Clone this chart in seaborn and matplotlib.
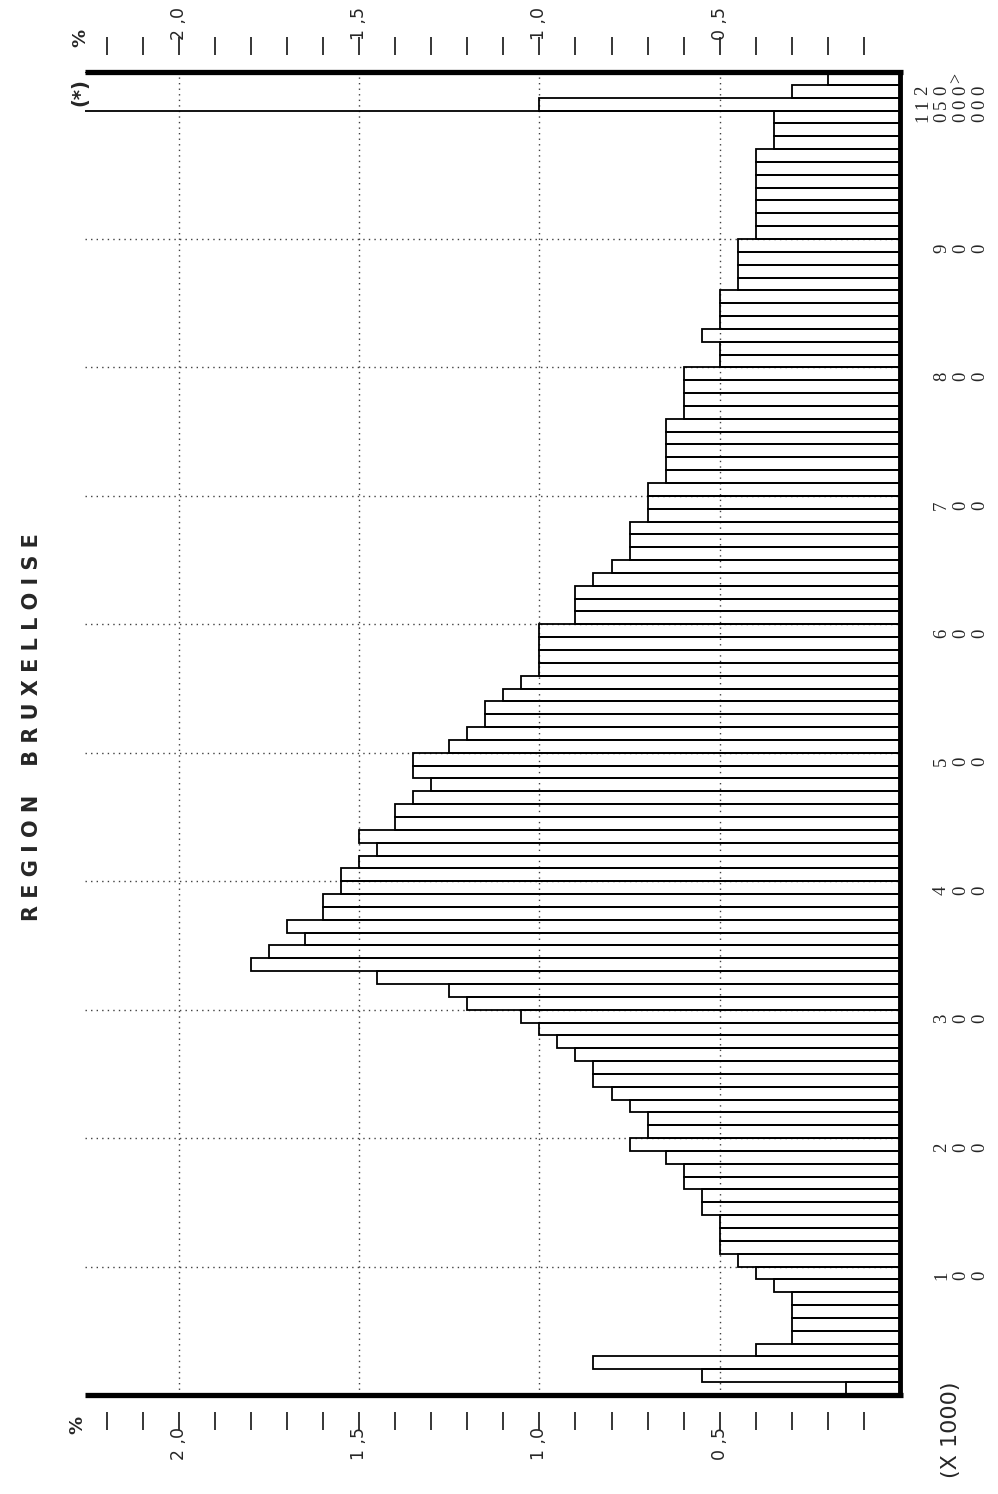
import numpy as np
import pandas as pd
import matplotlib
matplotlib.use("Agg")
import matplotlib.pyplot as plt
import matplotlib.transforms as mtransforms
import seaborn as sns

sns.set_style("white")
plt.rcParams['font.family'] = ['DejaVu Sans']

# ---- data -------------------------------------------------------------
# income classes of 10 (x 1000) from 0 to 1000
class_starts = list(range(0, 1000, 10))
class_values = [
    0.15, 0.55, 0.85, 0.40, 0.30, 0.30, 0.30, 0.30, 0.35, 0.40,   # 0-90
    0.45, 0.50, 0.50, 0.50, 0.55, 0.55, 0.60, 0.60, 0.65, 0.75,   # 100-190
    0.70, 0.70, 0.75, 0.80, 0.85, 0.85, 0.90, 0.95, 1.00, 1.05,   # 200-290
    1.20, 1.25, 1.45, 1.80, 1.75, 1.65, 1.70, 1.60, 1.60, 1.55,   # 300-390
    1.55, 1.50, 1.45, 1.50, 1.40, 1.40, 1.35, 1.30, 1.35, 1.35,   # 400-490
    1.25, 1.20, 1.15, 1.15, 1.10, 1.05, 1.00, 1.00, 1.00, 1.00,   # 500-590
    0.90, 0.90, 0.90, 0.85, 0.80, 0.75, 0.75, 0.75, 0.70, 0.70,   # 600-690
    0.70, 0.65, 0.65, 0.65, 0.65, 0.65, 0.60, 0.60, 0.60, 0.60,   # 700-790
    0.50, 0.50, 0.55, 0.50, 0.50, 0.50, 0.45, 0.45, 0.45, 0.45,   # 800-890
    0.40, 0.40, 0.40, 0.40, 0.40, 0.40, 0.40, 0.35, 0.35, 0.35,   # 900-990
]
# open classes above 1000
extra_classes = ["1000-1500", "1500-2000", ">2000"]
extra_values = [1.00, 0.30, 0.20]
# the off-scale total bar marked (*)
offscale_value = 3.0

value_ticks_major = [0.5, 1.0, 1.5, 2.0]
value_tick_labels = ["0 ,5", "1 ,0", "1 ,5", "2 ,0"]
value_ticks_minor = [round(0.1 * k, 1) for k in range(1, 23)]
class_tick_values = [100, 200, 300, 400, 500, 600, 700, 800, 900]
top_class_labels = ["1000", "1500", "2000"]
top_class_label_pos = [99.0, 99.95, 101.1]

# ---- frame ------------------------------------------------------------
W, H = 998, 1494
fig = plt.figure(figsize=(W / 100, H / 100), dpi=100)
x0, x1, ytop, ybot = 85, 900, 72, 1395
ax = fig.add_axes([x0 / W, 1 - ybot / H, (x1 - x0) / W, (ybot - ytop) / H])

names = [str(c) for c in class_starts] + extra_classes
df = pd.DataFrame({"cls": names, "val": class_values + extra_values})

# off-scale bar spanning the three open classes
ax.barh(y=[101], width=[offscale_value], height=3, left=0,
        facecolor="none", edgecolor="black", linewidth=1.3, zorder=2)

sns.barplot(data=df, x="val", y="cls", order=names, orient="h",
            fill=False, color="black", width=1.0, linewidth=1.3,
            errorbar=None, ax=ax, zorder=3)

ax.set_ylim(-0.5, 102.5)
ax.set_xlim(2.26, 0)
ax.set_ylabel("")
ax.set_xlabel("")
ax.set_yticks([])

# grid
grid_style = dict(color="0.25", linewidth=1.0, linestyle=(0, (1, 3)), zorder=1)
for v in value_ticks_major:
    ax.axvline(v, **grid_style)
for c in class_tick_values:
    ax.axhline(c / 10 - 0.5, **grid_style)

# spines: thick frame top / bottom / right, ticks detached outward
for s in ("top", "bottom"):
    ax.spines[s].set_position(("outward", 12))
    ax.spines[s].set_color("none")
ax.spines["left"].set_visible(False)
ax.spines["right"].set_linewidth(3.5)
ax.spines["right"].set_color("black")
for yy in (0, 1):
    ax.plot([0, 1.004], [yy, yy], transform=ax.transAxes, color="black",
            lw=3.8, clip_on=False, solid_capstyle="butt", zorder=5)

ax.set_xticks(value_ticks_major)
ax.set_xticklabels(value_tick_labels)
ax.set_xticks([v for v in value_ticks_minor if v not in value_ticks_major], minor=True)
ax.tick_params(axis="x", which="both", direction="out", length=13, width=1.1,
               top=True, bottom=True, labeltop=True, labelbottom=True,
               pad=-2, labelsize=12.5, labelrotation=90, color="black")

# class labels on the right (stacked digits)
trans = mtransforms.blended_transform_factory(ax.transAxes, ax.transData)
xr = (988 - x0) / (x1 - x0)
lab_kw = dict(transform=trans, rotation=90, ha="right", va="center",
              fontsize=13.5, linespacing=1.15, family="Liberation Serif")
for c in class_tick_values:
    ax.text(xr, c / 10 - 1.2, "\n".join(str(c)), **lab_kw)
for lab, pos in zip(top_class_labels, top_class_label_pos):
    ax.text(xr, pos, "\n".join(lab), **lab_kw)
ax.text((957 - x0) / (x1 - x0), 102.0, ">", transform=trans, rotation=90,
        ha="center", va="center", fontsize=13, family="Liberation Serif")

# texts
fig.text(32 / W, 1 - 727 / H, "R E G I O N    B R U X E L L O I S E",
         rotation=90, ha="center", va="center", fontsize=15, fontweight="bold")
fig.text(951 / W, 1 - 1430 / H, "(X 1000)", rotation=90, ha="center",
         va="center", fontsize=16)
fig.text(77 / W, 1 - 1425 / H, "%", rotation=90, ha="center", va="center",
         fontsize=13, fontweight="bold")
fig.text(80 / W, 1 - 38 / H, "%", rotation=90, ha="center", va="center",
         fontsize=13, fontweight="bold")
fig.text(80 / W, 1 - 92 / H, "(*)", rotation=90, ha="center", va="center",
         fontsize=14, fontweight="bold")

fig.savefig("out.png", dpi=100, facecolor="white")
